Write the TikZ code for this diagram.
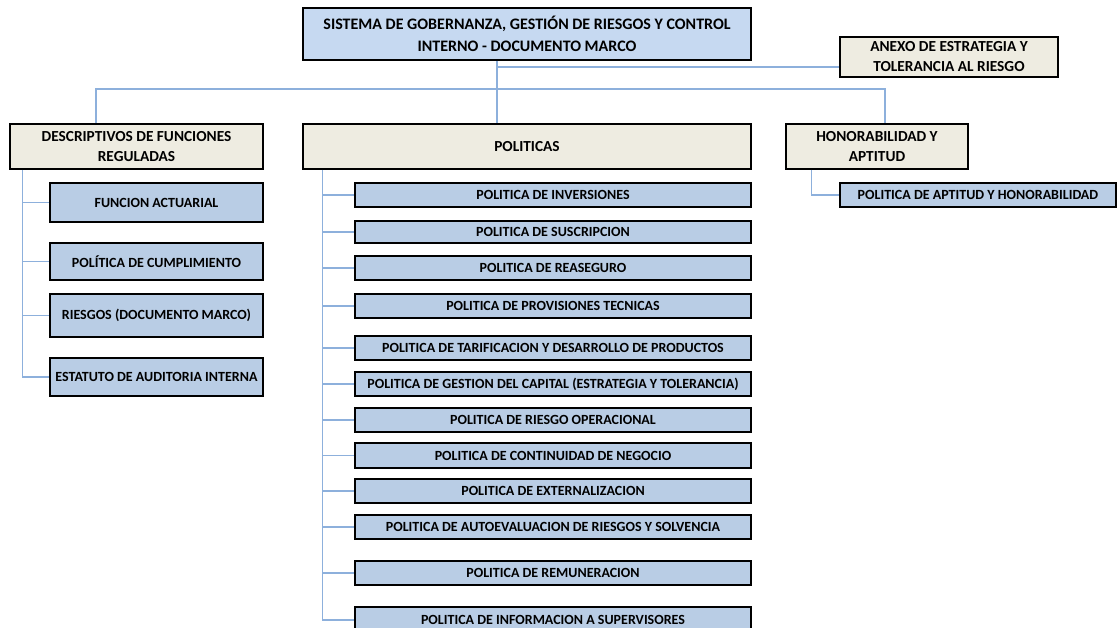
\documentclass[tikz,border=0pt]{standalone}
\usepackage{fontspec}
\setmainfont{Carlito}
\usetikzlibrary{calc}
\definecolor{topblue}{HTML}{C6D9F1}
\definecolor{kidblue}{HTML}{B9CDE5}
\definecolor{beige}{HTML}{EEECE1}
\definecolor{linecol}{HTML}{8DB0DC}
\newcommand\mkbox[7]{\node[#6, minimum width={(#4-#2)*0.75pt}, minimum height={(#5-#3)*0.75pt}] (#1) at ({(#2+#4)/2},{(#3+#5)/2}) {#7};}
\tikzset{
  basebox/.style={draw=black, line width=1.3pt, inner sep=0pt, align=center},
  topbox/.style={basebox, fill=topblue, font=\fontsize{12}{16.5}\selectfont\bfseries},
  headbox/.style={basebox, fill=beige, font=\fontsize{11.5}{15}\selectfont\bfseries},
  leftkid/.style={basebox, fill=kidblue, font=\fontsize{10.5}{12}\selectfont\bfseries},
  polkid/.style={basebox, fill=kidblue, font=\fontsize{10.5}{12}\selectfont\bfseries},
  conn/.style={draw=linecol, line width=0.9pt}
}
\begin{document}
\begin{tikzpicture}[x=0.75pt, y=-0.75pt]
\useasboundingbox (0,0) rectangle (1118,628);
% top level
\mkbox{top}{303}{8}{751}{60}{topbox}{SISTEMA DE GOBERNANZA, GESTIÓN DE RIESGOS Y CONTROL\\INTERNO - DOCUMENTO MARCO}
\mkbox{anx}{840}{37}{1058}{77}{headbox}{ANEXO DE ESTRATEGIA Y\\TOLERANCIA AL RIESGO}
% second level
\mkbox{desc}{10}{124}{263}{169}{headbox}{DESCRIPTIVOS DE FUNCIONES\\REGULADAS}
\mkbox{pol}{303}{124}{751}{169}{headbox}{POLITICAS}
\mkbox{hon}{786}{124}{968}{169}{headbox}{HONORABILIDAD Y\\APTITUD}
% left children
\mkbox{fa}{50}{183}{263}{222}{leftkid}{FUNCION ACTUARIAL}
\mkbox{cum}{50}{243}{263}{280}{leftkid}{POLÍTICA DE CUMPLIMIENTO}
\mkbox{rie}{50}{294}{263}{337}{leftkid}{RIESGOS (DOCUMENTO MARCO)}
\mkbox{est}{50}{358}{263}{396}{leftkid}{ESTATUTO DE AUDITORIA INTERNA}
% policy children
\mkbox{p1}{355}{183}{751}{207}{polkid}{POLITICA DE INVERSIONES}
\mkbox{p2}{355}{221}{751}{243}{polkid}{POLITICA DE SUSCRIPCION}
\mkbox{p3}{355}{256}{751}{280}{polkid}{POLITICA DE REASEGURO}
\mkbox{p4}{355}{294}{751}{318}{polkid}{POLITICA DE PROVISIONES TECNICAS}
\mkbox{p5}{355}{336}{751}{360}{polkid}{POLITICA DE TARIFICACION Y DESARROLLO DE PRODUCTOS}
\mkbox{p6}{355}{372}{751}{396}{polkid}{POLITICA DE GESTION DEL CAPITAL (ESTRATEGIA Y TOLERANCIA)}
\mkbox{p7}{355}{408}{751}{432}{polkid}{POLITICA DE RIESGO OPERACIONAL}
\mkbox{p8}{355}{443}{751}{468}{polkid}{POLITICA DE CONTINUIDAD DE NEGOCIO}
\mkbox{p9}{355}{479}{751}{503}{polkid}{POLITICA DE EXTERNALIZACION}
\mkbox{p10}{355}{515}{751}{539}{polkid}{POLITICA DE AUTOEVALUACION DE RIESGOS Y SOLVENCIA}
\mkbox{p11}{355}{561}{751}{585}{polkid}{POLITICA DE REMUNERACION}
\mkbox{p12}{355}{607}{751}{633}{polkid}{POLITICA DE INFORMACION A SUPERVISORES}
% right child
\mkbox{pah}{840}{183}{1116}{207}{polkid}{POLITICA DE APTITUD Y HONORABILIDAD}
% connectors
\coordinate (trunk) at (497,89);
\coordinate (ax) at (497,67);
\draw[conn] (top.south -| trunk) -- (pol.north -| trunk);
\draw[conn] (ax) -- (ax -| anx.west);
\path ($(desc.north)+(-40.5,0)$) coordinate (dA);
\path ($(hon.north)+(8,0)$) coordinate (hA);
\draw[conn] (dA) -- (dA |- trunk) -- (hA |- trunk) -- (hA);
% descriptivos trunk
\path ($(desc.south west)+(13,0)$) coordinate (dT);
\draw[conn] (dT) -- (dT |- est.west);
\foreach \n in {fa,cum,rie,est} \draw[conn] (dT |- \n.west) -- (\n.west);
% politicas trunk
\path ($(pol.south west)+(20,0)$) coordinate (pT);
\draw[conn] (pT) -- (pT |- p12.west);
\foreach \n in {p1,p2,p3,p4,p5,p6,p7,p8,p9,p10,p11,p12} \draw[conn] (pT |- \n.west) -- (\n.west);
% honorabilidad
\path ($(hon.south west)+(26,0)$) coordinate (hT);
\draw[conn] (hT) |- (pah.west);
\end{tikzpicture}
\end{document}
